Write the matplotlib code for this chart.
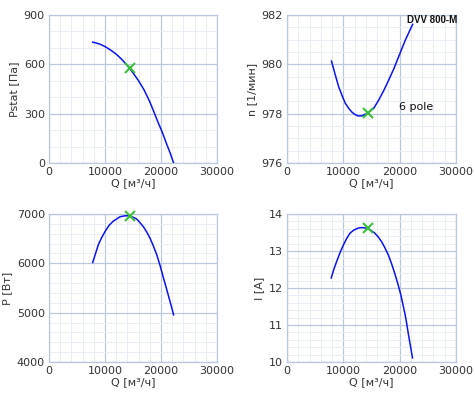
import matplotlib
matplotlib.use("Agg")
import matplotlib.pyplot as plt
from matplotlib.ticker import AutoMinorLocator

# fan curves
q_p = [7800, 9000, 10000, 11000, 12000, 13000, 14300, 15000, 16000, 17000, 18000, 18800, 19500, 20250, 21050, 21700, 22250]
pstat = [735, 724, 708, 687, 662, 630, 580, 548, 500, 443, 372, 305, 245, 185, 112, 55, 0]

q_n = [7900, 8600, 9170, 9800, 10350, 11000, 11540, 12100, 12600, 13300, 14300, 15400, 16300, 17200, 18050, 19000, 19800, 21000, 22300]
n_rpm = [980.13, 979.55, 979.09, 978.72, 978.42, 978.20, 978.06, 977.96, 977.91, 977.91, 978.02, 978.22, 978.56, 978.95, 979.36, 979.84, 980.30, 980.98, 981.62]

q_w = [7800, 8800, 9400, 10000, 10700, 11500, 12700, 13500, 14200, 15000, 15650, 16200, 16850, 17450,
       18050, 18650, 19250, 19850, 20450, 20950, 21450, 21850, 22250]
power = [6016, 6373, 6520, 6643, 6765, 6858, 6945, 6962, 6966, 6935, 6899, 6830, 6744, 6635,
         6508, 6350, 6171, 5950, 5699, 5500, 5294, 5130, 4957]

q_i = [7850, 8300, 8800, 9400, 10000, 10600, 11170, 11900, 12650, 13000, 13550, 14300, 14900, 15600, 16200,
       16800, 17400, 18000, 18600, 19200, 19700, 20200, 20970, 21270, 21560, 21920, 22280]
current = [12.27, 12.50, 12.71, 12.95, 13.16, 13.34, 13.48, 13.57, 13.62, 13.63, 13.63, 13.61, 13.56, 13.48, 13.38,
           13.25, 13.08, 12.89, 12.64, 12.36, 12.10, 11.82, 11.28, 11.02, 10.74, 10.43, 10.11]

# operating point
q_op = 14400
op_pstat = 577
op_n = 978.02
op_power = 6958
op_current = 13.61

grid_major = "#b9c8df"
grid_minor = "#e8edf6"
txt = "#333333"

fig = plt.figure(figsize=(4.75, 3.99), dpi=100)
boxes = [
    [49 / 475, 1 - 163 / 399, 168 / 475, 148 / 399],
    [287 / 475, 1 - 163 / 399, 169 / 475, 148 / 399],
    [49 / 475, 1 - 362 / 399, 168 / 475, 148 / 399],
    [287 / 475, 1 - 362 / 399, 169 / 475, 148 / 399],
]
panels = [
    (q_p, pstat, op_pstat, "Pstat [Па]", (0, 900), [0, 300, 600, 900], 3),
    (q_n, n_rpm, op_n, "n [1/мин]", (976, 982), [976, 978, 980, 982], 4),
    (q_w, power, op_power, "P [Вт]", (4000, 7000), [4000, 5000, 6000, 7000], 5),
    (q_i, current, op_current, "I [A]", (10, 14), [10, 11, 12, 13, 14], 5),
]

axes = []
for box, (x, y, yop, lab, lim, ticks, ny) in zip(boxes, panels):
    ax = fig.add_axes(box)
    ax.plot(x, y, color="#0a14f0", lw=1.1, zorder=3)
    ax.plot([q_op], [yop], marker="x", color="#3cc03c", ms=7, mew=1.5, zorder=4, clip_on=False)
    ax.set_xlim(0, 30000)
    ax.set_ylim(*lim)
    ax.set_xticks([0, 10000, 20000, 30000])
    ax.set_yticks(ticks)
    ax.xaxis.set_minor_locator(AutoMinorLocator(5))
    ax.yaxis.set_minor_locator(AutoMinorLocator(ny))
    ax.grid(which="major", color=grid_major, lw=0.9, zorder=1)
    ax.grid(which="minor", color=grid_minor, lw=0.7, zorder=0)
    ax.set_axisbelow(True)
    for s in ax.spines.values():
        s.set_color(grid_major)
        s.set_linewidth(0.9)
    ax.tick_params(which="both", length=0, labelsize=8, colors=txt, pad=3)
    ax.set_xlabel("Q [м³/ч]", fontsize=8, color=txt, labelpad=1)
    ax.set_ylabel(lab, fontsize=8, color=txt, labelpad=3)
    axes.append(ax)

axes[1].text(21300, 981.78, "DVV 800-M", fontsize=7, fontweight="bold", color="#111111",
             family="Liberation Sans", ha="left", va="center")
axes[1].text(19900, 978.25, "6 pole", fontsize=8, color="#111111", ha="left", va="center")

fig.savefig("out.png", dpi=100)
